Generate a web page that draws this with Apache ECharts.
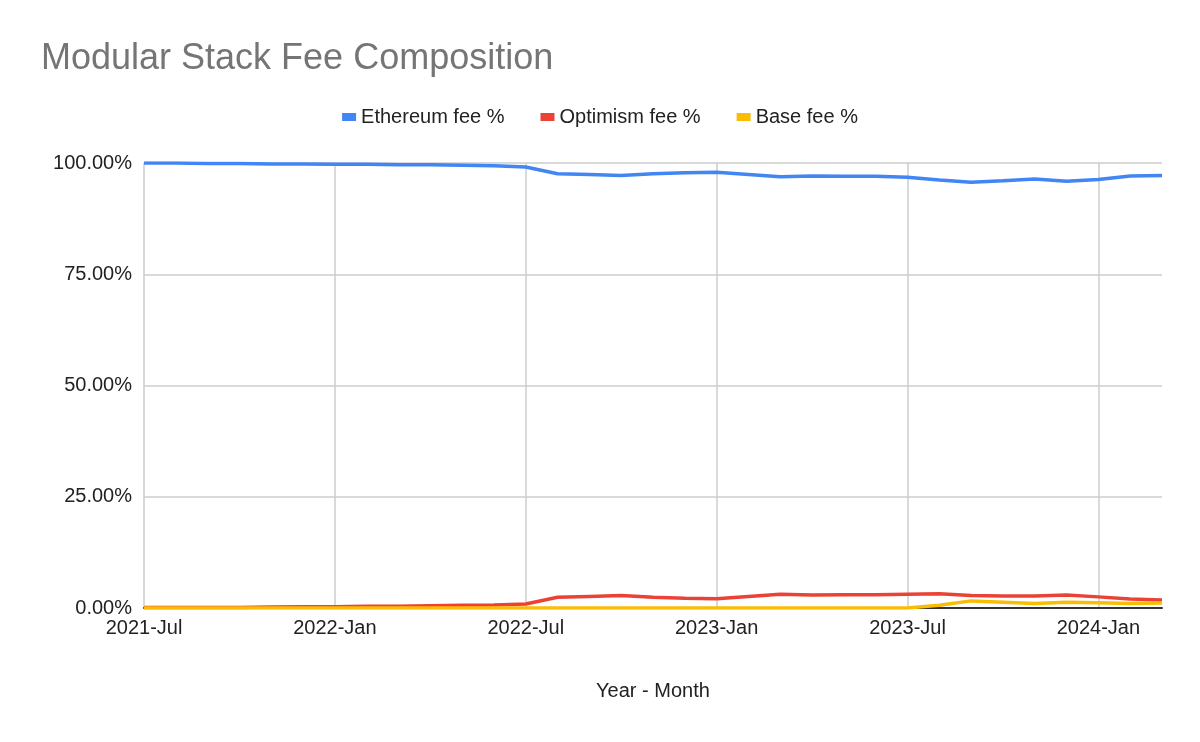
<!DOCTYPE html>
<html><head><meta charset="utf-8">
<script src="https://cdn.jsdelivr.net/npm/echarts@6/dist/echarts.min.js"></script>
<style>body{margin:0}#c{width:1200px;height:742px}</style></head>
<body><div id="c"></div>
<script>
const months = [];
(function(){const n=['Jan','Feb','Mar','Apr','May','Jun','Jul','Aug','Sep','Oct','Nov','Dec'];let y=2021,m=6;for(let i=0;i<33;i++){months.push(y+'-'+n[m]);m++;if(m===12){m=0;y++;}}})();
const ethereum = [100,100,99.9,99.9,99.8,99.8,99.7,99.7,99.6,99.6,99.5,99.4,99.1,97.6,97.4,97.2,97.6,97.8,97.9,97.4,96.9,97.1,97.0,97.0,96.8,96.2,95.7,96.0,96.4,95.9,96.3,97.1,97.2];
const optimism = [0.1,0.1,0.1,0.1,0.2,0.3,0.3,0.4,0.4,0.5,0.6,0.7,0.9,2.4,2.6,2.8,2.4,2.2,2.1,2.6,3.1,2.9,3.0,3.0,3.1,3.2,2.8,2.7,2.7,2.9,2.5,2.0,1.8];
const base = [0,0,0,0,0,0,0,0,0,0,0,0,0,0,0,0,0,0,0,0,0,0,0,0,0,0.6,1.6,1.3,1.0,1.3,1.2,1.0,1.1];
const chart = echarts.init(document.getElementById('c'));
const font = '"Liberation Sans", Arial, sans-serif';
chart.setOption({
  animation:false,
  title:{text:'Modular Stack Fee Composition',left:36,top:36,textStyle:{color:'#757575',fontSize:36,fontWeight:'normal',fontFamily:font}},
  legend:{top:102,left:'center',itemWidth:14,itemHeight:8,itemGap:36,icon:'rect',textStyle:{fontSize:20,color:'#222',fontFamily:font}},
  grid:{left:144,right:38,top:163,bottom:134},
  xAxis:{type:'category',data:months,boundaryGap:false,name:'Year - Month',nameLocation:'middle',nameGap:73,
    nameTextStyle:{fontSize:20,color:'#222',fontFamily:font},
    axisLine:{lineStyle:{color:'#333',width:2}},axisTick:{show:false},
    axisLabel:{interval:5,fontSize:20,color:'#222',fontFamily:font,margin:10},
    splitLine:{show:true,interval:5,lineStyle:{color:'#ccc',width:1.5}}},
  yAxis:{type:'value',min:0,max:100,interval:25,axisLine:{show:false},axisTick:{show:false},
    axisLabel:{formatter:v=>v.toFixed(2)+'%',fontSize:20,color:'#222',fontFamily:font,margin:12},
    splitLine:{lineStyle:{color:'#ccc',width:1.5}}},
  series:[
    {name:'Ethereum fee %',type:'line',data:ethereum,showSymbol:false,lineStyle:{width:3.5,color:'#4285f4'},itemStyle:{color:'#4285f4'}},
    {name:'Optimism fee %',type:'line',data:optimism,showSymbol:false,lineStyle:{width:3.5,color:'#ea4335'},itemStyle:{color:'#ea4335'}},
    {name:'Base fee %',type:'line',data:base,showSymbol:false,lineStyle:{width:3.5,color:'#fbbc04'},itemStyle:{color:'#fbbc04'}}
  ]
});
</script></body></html>
